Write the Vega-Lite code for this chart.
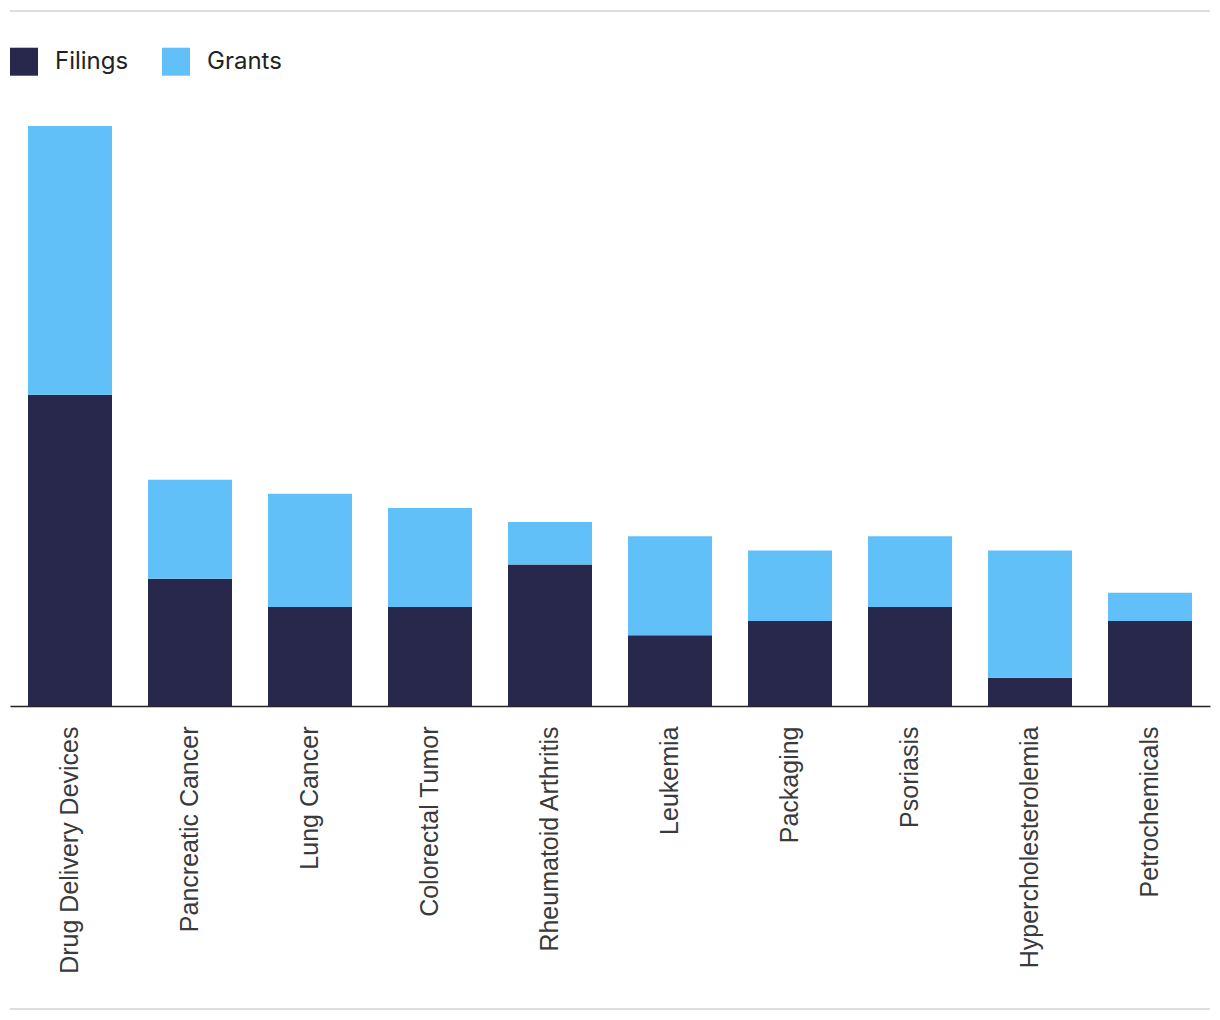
{
  "$schema": "https://vega.github.io/schema/vega-lite/v6.json",
  "autosize": {"type": "none"},
  "padding": {"left": 10, "top": 11, "right": 10, "bottom": 11},
  "width": 1200,
  "height": 998,
  "background": "white",
  "config": {"view": {"stroke": null}},
  "layer": [
    {
      "data": {"values": [
        {"area": "Drug Delivery Devices", "type": "Filings", "count": 22},
        {"area": "Drug Delivery Devices", "type": "Grants", "count": 19},
        {"area": "Pancreatic Cancer", "type": "Filings", "count": 9},
        {"area": "Pancreatic Cancer", "type": "Grants", "count": 7},
        {"area": "Lung Cancer", "type": "Filings", "count": 7},
        {"area": "Lung Cancer", "type": "Grants", "count": 8},
        {"area": "Colorectal Tumor", "type": "Filings", "count": 7},
        {"area": "Colorectal Tumor", "type": "Grants", "count": 7},
        {"area": "Rheumatoid Arthritis", "type": "Filings", "count": 10},
        {"area": "Rheumatoid Arthritis", "type": "Grants", "count": 3},
        {"area": "Leukemia", "type": "Filings", "count": 5},
        {"area": "Leukemia", "type": "Grants", "count": 7},
        {"area": "Packaging", "type": "Filings", "count": 6},
        {"area": "Packaging", "type": "Grants", "count": 5},
        {"area": "Psoriasis", "type": "Filings", "count": 7},
        {"area": "Psoriasis", "type": "Grants", "count": 5},
        {"area": "Hypercholesterolemia", "type": "Filings", "count": 2},
        {"area": "Hypercholesterolemia", "type": "Grants", "count": 9},
        {"area": "Petrochemicals", "type": "Filings", "count": 6},
        {"area": "Petrochemicals", "type": "Grants", "count": 2}
      ]},
      "mark": {"type": "bar"},
      "encoding": {
        "x": {
          "field": "area", "type": "nominal", "sort": null,
          "scale": {"paddingInner": 0.3, "paddingOuter": 0.15},
          "axis": {
            "title": null, "offset": -303, "ticks": false, "labelPadding": 20,
            "labelAngle": 270, "labelFont": "Liberation Sans", "labelFontSize": 25,
            "labelColor": "#3a3a3a", "labelLimit": 0,
            "domainColor": "#222222", "domainWidth": 1.6
          }
        },
        "y": {
          "field": "count", "type": "quantitative", "stack": "zero",
          "scale": {"domain": [-21.42, 49.13], "nice": false, "zero": false},
          "axis": null
        },
        "color": {
          "field": "type", "type": "nominal",
          "scale": {"domain": ["Filings", "Grants"], "range": ["#28284c", "#62c0f8"]},
          "legend": {
            "title": null, "orient": "none", "direction": "horizontal",
            "legendX": 0, "legendY": 36.7,
            "symbolType": "square", "symbolSize": 784, "symbolStrokeWidth": 0,
            "symbolOpacity": 1,
            "labelFont": "Inter", "labelFontSize": 24, "labelColor": "#222222",
            "labelOffset": 17, "columnPadding": 33
          }
        },
        "order": {"field": "type", "sort": "ascending"}
      }
    },
    {
      "data": {"values": [{"edge": "top"}]},
      "mark": {"type": "rule", "color": "#dddddd", "strokeWidth": 2},
      "encoding": {"y": {"datum": 49.13, "type": "quantitative"}}
    },
    {
      "data": {"values": [{"edge": "bottom"}]},
      "mark": {"type": "rule", "color": "#dddddd", "strokeWidth": 2},
      "encoding": {"y": {"datum": -21.42, "type": "quantitative"}}
    }
  ]
}
